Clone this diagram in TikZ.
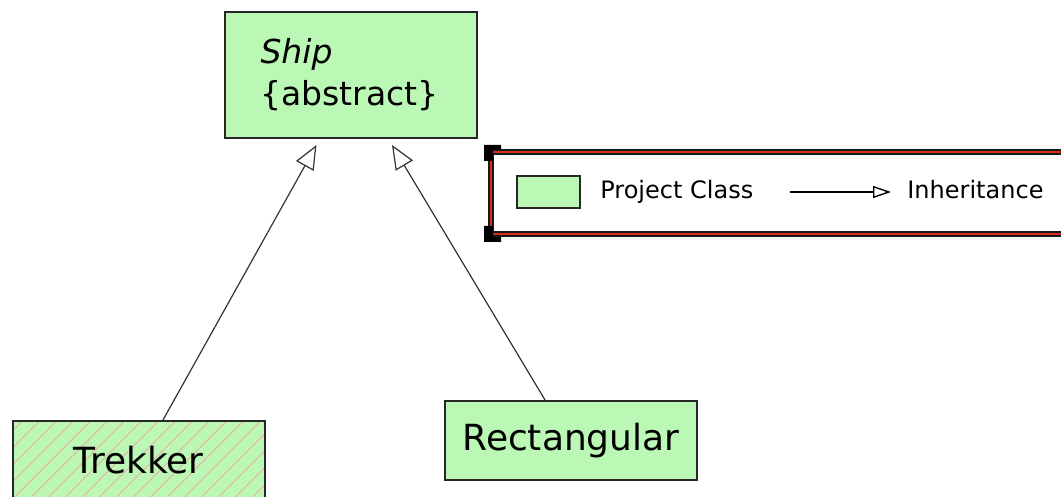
\documentclass[tikz,border=0pt]{standalone}
\usepackage{fontspec}
\setmainfont{DejaVu Sans}
\usetikzlibrary{arrows.meta,positioning}
\definecolor{clsgreen}{RGB}{187,247,181}
\definecolor{legendred}{RGB}{214,44,24}
\definecolor{hatchpink}{RGB}{238,176,164}

\begin{document}
\begin{tikzpicture}[
    x=0.5pt, y=-0.5pt,
    cls/.style={draw=black!85, line width=1pt, fill=clsgreen, rectangle, minimum width=126pt, minimum height=39.5pt, inner sep=0pt, font=\fontsize{18}{21}\selectfont},
    hatched/.style={path picture={\foreach \k in {0,...,22} \draw[hatchpink, line width=0.4pt] ([xshift=\k*8.5pt-60pt]path picture bounding box.south west) -- ++(60pt,60pt);}},
    inherit/.style={draw=black!80, line width=0.6pt, -{Triangle[open, length=12pt, width=10pt]}},
    legendtext/.style={font=\fontsize{12}{14}\selectfont, inner sep=0pt, anchor=base west}
]
\useasboundingbox (0,0) rectangle (1061,497);
\clip (0,0) rectangle (1061,497);

% Classes
\node[cls, minimum height=63pt, align=left, text width=90pt, inner xsep=18pt, font=\fontsize{16.5}{21}\selectfont] (ship) at (350.5,75) {\textit{Ship}\\\{abstract\}};
\node[cls, hatched] (trekker) at (138.5,460.5) {Trekker};
\node[cls] (rect) at (571,440.5) {Rectangular};

% Inheritance
\draw[inherit] ([xshift=12.25pt]trekker.north) -- ([xshift=-17pt,yshift=-3pt]ship.south);
\draw[inherit] ([xshift=-13pt]rect.north) -- ([xshift=20.75pt,yshift=-3pt]ship.south);

% Legend
\draw[black!90, line width=3pt] (491,152) rectangle (1080,234);
\draw[legendred, line width=1.2pt] (491,152) rectangle (1080,234);
\fill[black] (484,145) rectangle (493,161) (484,145) rectangle (501,150);
\fill[black] (484,226) rectangle (493,242) (484,237) rectangle (501,242);

\node[draw=black!85, line width=1pt, fill=clsgreen, minimum width=31.5pt, minimum height=16pt, inner sep=0pt] (key) at (548.5,192.5) {};
\node[legendtext] (keytext) at (600,199) {Project Class};
\node[legendtext] (inhtext) at (907,199) {Inheritance};
\coordinate (arrstart) at (790,192);
\draw[inherit, draw=black, line width=0.7pt, -{Triangle[open, length=9pt, width=6pt]}] (arrstart) -- (arrstart -| 891,0);

\end{tikzpicture}
\end{document}
